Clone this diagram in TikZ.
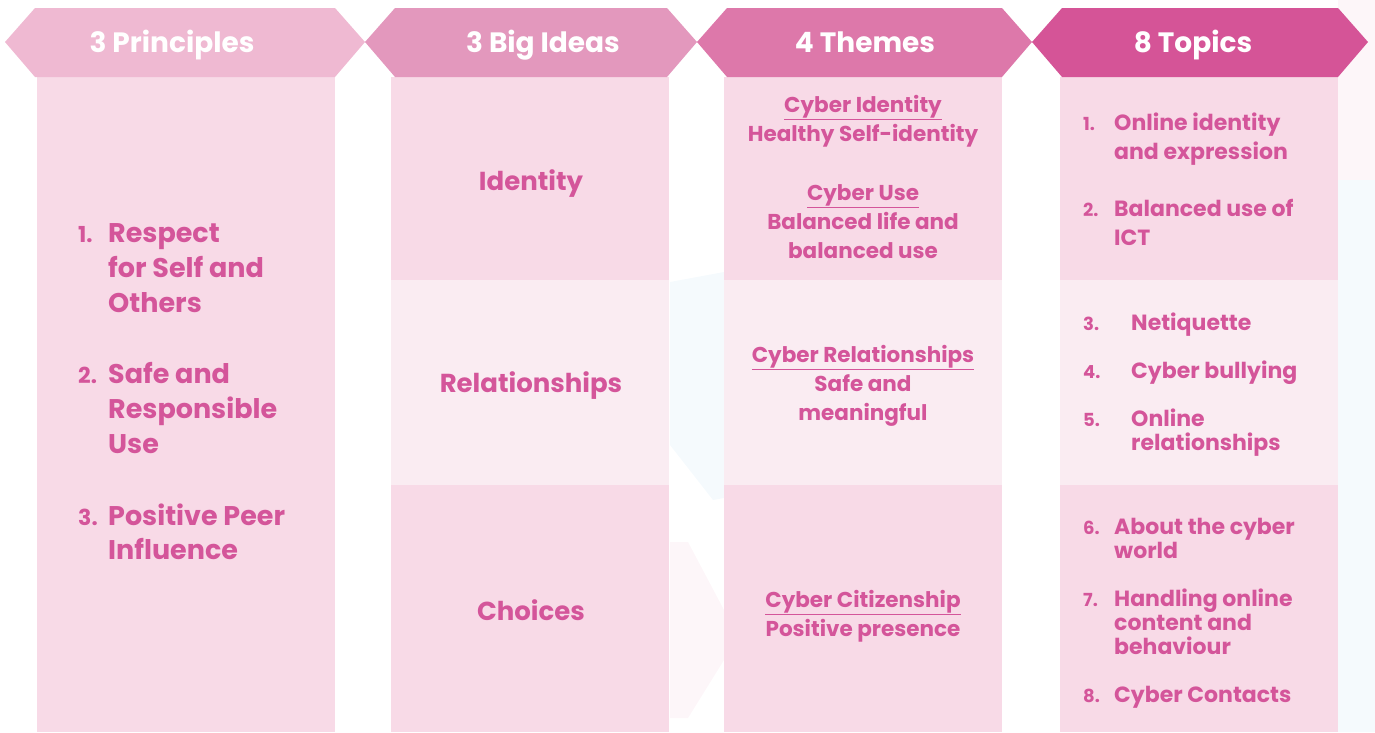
\documentclass[tikz,border=0pt]{standalone}
\usepackage{fontspec}
\setmainfont{Poppins}
\usepackage{tikz}
\definecolor{hdA}{HTML}{EFB9D2}
\definecolor{hdB}{HTML}{E398BD}
\definecolor{hdC}{HTML}{DD78AA}
\definecolor{hdD}{HTML}{D55497}
\definecolor{boxpink}{HTML}{F8DAE7}
\definecolor{boxlight}{HTML}{FAECF2}
\definecolor{txtpink}{HTML}{D4559A}
\definecolor{bgblue}{HTML}{F5FAFD}
\definecolor{bgrose}{HTML}{FDF6F9}
\tikzset{head/.style={text=white, font=\fontsize{28}{32}\selectfont\bfseries, anchor=base}}
\tikzset{prin/.style={text=txtpink, font=\fontsize{27}{30}\selectfont\bfseries, anchor=base west, inner sep=0}}
\tikzset{pnum/.style={prin, font=\fontsize{22}{26}\selectfont\bfseries}}
\tikzset{idea/.style={text=txtpink, font=\fontsize{26}{30}\selectfont\bfseries, anchor=base, inner sep=0}}
\tikzset{theme/.style={text=txtpink, font=\fontsize{21.5}{25}\selectfont\bfseries, anchor=base, inner sep=0}}
\tikzset{topic/.style={text=txtpink, font=\fontsize{22}{25}\selectfont\bfseries, anchor=base west, inner sep=0}}
\tikzset{tnum/.style={text=txtpink, font=\fontsize{18}{22}\selectfont\bfseries, anchor=base west, inner sep=0}}

\begin{document}
\begin{tikzpicture}[x=1pt, y=-1pt]
\useasboundingbox (0,0) rectangle (1375,732);

% faint background
\fill[bgrose] (1338,0) rectangle (1375,180);
\fill[bgblue] (1338,180) rectangle (1375,732);
\fill[bgblue] (670,282) -- (724,272) -- (724,498) -- (713,500) -- (670,445) -- cycle;
\fill[bgrose] (670,542) -- (688,542) -- (724,610) -- (724,660) -- (688,718) -- (670,718) -- cycle;

% column boxes
\fill[boxpink] (37,77) rectangle (335,732);
\foreach \l/\r in {391/669, 724/1002, 1060/1338} {
  \fill[boxpink] (\l,77) rectangle (\r,280);
  \fill[boxlight] (\l,280) rectangle (\r,485);
  \fill[boxpink] (\l,485) rectangle (\r,732);
}

% headers
\foreach \l/\r/\c in {5/365/hdA, 365/697/hdB, 697/1032/hdC, 1032/1368/hdD}
  \fill[\c] (\l,42) -- (\l+30,8) -- (\r-30,8) -- (\r,42) -- (\r-30,77) -- (\l+30,77) -- cycle;
\node[head] (h1) at (172,52) {3 Principles};
\node[head] (h2) at (543,52) {3 Big Ideas};
\node[head] (h3) at (865,52) {4 Themes};
\node[head] (h4) at (1193,52) {8 Topics};

% principles
\node[pnum] (p1n) at (78,242) {1.};
\node[prin] (p1a) at (108,242) {Respect};
\node[prin] (p1b) at (108,277) {for Self and};
\node[prin] (p1c) at (108,312) {Others};
\node[pnum] (p2n) at (78,383) {2.};
\node[prin] (p2a) at (108,383) {Safe and};
\node[prin] (p2b) at (108,418) {Responsible};
\node[prin] (p2c) at (108,453) {Use};
\node[pnum] (p3n) at (78,525) {3.};
\node[prin] (p3a) at (108,525) {Positive Peer};
\node[prin] (p3b) at (108,559) {Influence};

% big ideas
\node[idea] (i1) at (531,190) {Identity};
\node[idea] (i2) at (531,392) {Relationships};
\node[idea] (i3) at (531,620) {Choices};

% themes
\node[theme] (t1a) at (863,112) {\underline{Cyber Identity}};
\node[theme] (t1b) at (863,141) {Healthy Self-identity};
\node[theme] (t2a) at (863,200) {\underline{Cyber Use}};
\node[theme] (t2b) at (863,229) {Balanced life and};
\node[theme] (t2c) at (863,258) {balanced use};
\node[theme] (t3a) at (863,362) {\underline{Cyber Relationships}};
\node[theme] (t3b) at (863,391) {Safe and};
\node[theme] (t3c) at (863,420) {meaningful};
\node[theme] (t4a) at (863,607) {\underline{Cyber Citizenship}};
\node[theme] (t4b) at (863,636) {Positive presence};

% topics
\node[tnum] (n1) at (1083,130) {1.};
\node[topic] (o1a) at (1114,130) {Online identity};
\node[topic] (o1b) at (1114,159) {and expression};
\node[tnum] (n2) at (1083,216) {2.};
\node[topic] (o2a) at (1114,216) {Balanced use of};
\node[topic] (o2b) at (1114,245) {ICT};
\node[tnum] (n3) at (1083,330) {3.};
\node[topic] (o3) at (1131,330) {Netiquette};
\node[tnum] (n4) at (1083,378) {4.};
\node[topic] (o4) at (1131,378) {Cyber bullying};
\node[tnum] (n5) at (1083,426) {5.};
\node[topic] (o5a) at (1131,426) {Online};
\node[topic] (o5b) at (1131,450) {relationships};
\node[tnum] (n6) at (1083,534) {6.};
\node[topic] (o6a) at (1114,534) {About the cyber};
\node[topic] (o6b) at (1114,558) {world};
\node[tnum] (n7) at (1083,606) {7.};
\node[topic] (o7a) at (1114,606) {Handling online};
\node[topic] (o7b) at (1114,630) {content and};
\node[topic] (o7c) at (1114,654) {behaviour};
\node[tnum] (n8) at (1083,702) {8.};
\node[topic] (o8) at (1114,702) {Cyber Contacts};

\end{tikzpicture}
\end{document}
